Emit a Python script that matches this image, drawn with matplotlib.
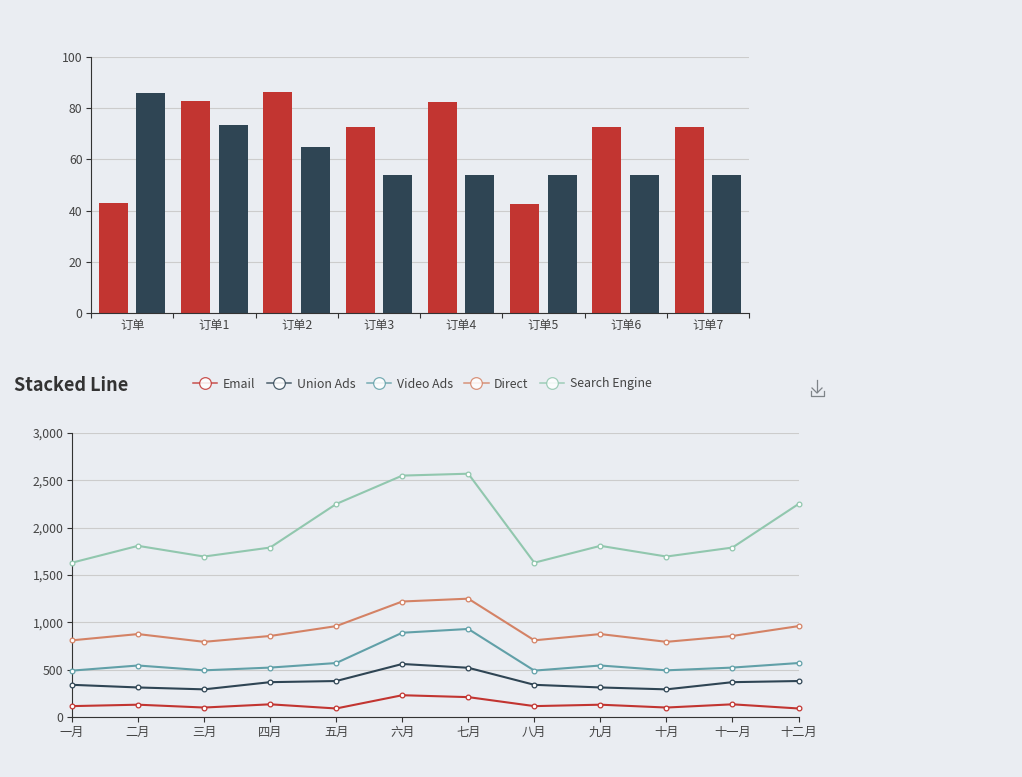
import numpy as np
import matplotlib
matplotlib.use('Agg')
import matplotlib.pyplot as plt
from matplotlib.lines import Line2D

plt.rcParams['font.family'] = ['Noto Sans CJK SC', 'DejaVu Sans']

W, H = 1022, 777
BG = '#eaedf2'
TXT = '#444444'

# top bar chart
orders = ['订单', '订单1', '订单2', '订单3', '订单4', '订单5', '订单6', '订单7']
bar_red = [43, 83, 86.5, 72.5, 82.5, 42.5, 72.5, 72.5]
bar_dark = [86, 73.5, 65, 54, 54, 54, 54, 54]

# bottom stacked line chart
months = ['一月', '二月', '三月', '四月', '五月', '六月', '七月', '八月', '九月', '十月', '十一月', '十二月']
email = [115, 130, 100, 134, 90, 230, 210, 115, 130, 100, 134, 90]
union_ads = [225, 182, 192, 234, 290, 330, 310, 225, 182, 192, 234, 290]
video_ads = [150, 232, 201, 154, 190, 330, 410, 150, 232, 201, 154, 190]
direct = [320, 332, 301, 334, 390, 330, 320, 320, 332, 301, 334, 390]
search = [820, 932, 901, 934, 1290, 1330, 1320, 820, 932, 901, 934, 1290]
series_names = ['Email', 'Union Ads', 'Video Ads', 'Direct', 'Search Engine']
series_colors = ['#c23531', '#2f4554', '#61a0a8', '#d48265', '#91c7ae']


def px_axes(fig, x0, y0, x1, y1):
    """axes from pixel box, y measured from the top"""
    return fig.add_axes([x0 / W, 1 - y1 / H, (x1 - x0) / W, (y1 - y0) / H])


def style_axes(ax):
    ax.set_facecolor('none')
    ax.spines['top'].set_visible(False)
    ax.spines['right'].set_visible(False)
    for s in ['left', 'bottom']:
        ax.spines[s].set_color('#333333')
        ax.spines[s].set_linewidth(0.8)
    ax.grid(axis='y', color='#cccccc', linewidth=0.8)
    ax.set_axisbelow(True)
    ax.tick_params(axis='both', which='major', length=3.6, width=0.8, color='#333333',
                   labelcolor=TXT, labelsize=8.8, pad=2.5)


fig = plt.figure(figsize=(W / 100, H / 100), dpi=100, facecolor=BG)

# 上图：柱状图
ax0 = px_axes(fig, 91, 57, 749, 313)
style_axes(ax0)
x = np.arange(len(orders))
ax0.bar(x - 0.228, bar_red, width=0.35, color=series_colors[0])
ax0.bar(x + 0.228, bar_dark, width=0.35, color=series_colors[1])
ax0.set_xlim(-0.5, len(orders) - 0.5)
ax0.set_ylim(0, 100)
ax0.set_yticks(range(0, 101, 20))
ax0.set_xticks(np.arange(len(orders) + 1) - 0.5)
ax0.set_xticklabels([])
ax0.set_xticks(x, orders, minor=True)
ax0.tick_params(axis='x', which='minor', length=0, labelcolor=TXT, labelsize=8.8, pad=4)

# 下图：堆叠折线
ax1 = px_axes(fig, 72, 433, 798.5, 717)
style_axes(ax1)
stack = np.cumsum([email, union_ads, video_ads, direct, search], axis=0)
xm = np.arange(len(months))
for vals, name, c in zip(stack, series_names, series_colors):
    ax1.plot(xm, vals, color=c, linewidth=1.5, marker='o', markersize=3.4,
             markerfacecolor='white', markeredgecolor=c, markeredgewidth=0.9,
             label=name, clip_on=False, zorder=3)
ax1.set_xlim(0, len(months) - 1)
ax1.set_ylim(0, 3000)
ax1.set_yticks(range(0, 3001, 500))
ax1.set_yticklabels([f'{v:,}' for v in range(0, 3001, 500)])
ax1.set_xticks(xm, months)

fig.text(14 / W, 1 - 385 / H, 'Stacked Line', fontsize=13, fontweight='bold', color='#333333',
         ha='left', va='center')

# 图例
handles = [Line2D([0], [0], color=c, linewidth=1.1, alpha=0.85, marker='o', markersize=8.4,
                  markerfacecolor='white', markeredgecolor=c, markeredgewidth=0.9)
           for c in series_colors]
fig.legend(handles, series_names, ncol=5, loc='center left', bbox_to_anchor=(188 / W, 1 - 384 / H),
           frameon=False, fontsize=8.9, labelcolor=TXT, handlelength=1.95, handletextpad=0.45,
           columnspacing=0.95, borderpad=0.4, borderaxespad=0)

# 右上角下载图标
icon = '#7f8489'
for xs, ys in [([817, 817], [380, 392]),
               ([812, 817, 822], [388, 393, 388]),
               ([810.5, 810.5, 824, 824], [391, 396, 396, 391])]:
    fig.add_artist(Line2D(np.array(xs) / W, 1 - np.array(ys) / H, color=icon, linewidth=0.9))

fig.savefig('out.png', dpi=100, facecolor=BG)
